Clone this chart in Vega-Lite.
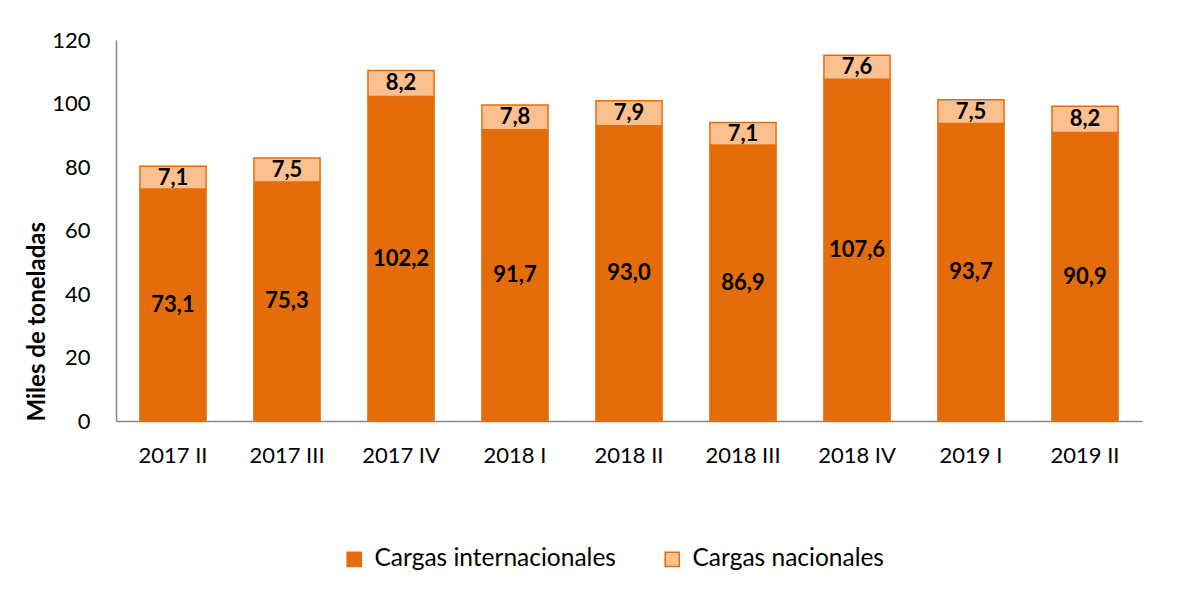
{
  "$schema": "https://vega.github.io/schema/vega-lite/v6.json",
  "width": 1026,
  "height": 381,
  "autosize": {"type": "none"},
  "padding": {"left": 116, "top": 40, "right": 54, "bottom": 183},
  "background": "white",
  "config": {
    "view": {"stroke": null},
    "font": "Lato",
    "locale": {"number": {"decimal": ",", "thousands": ".", "grouping": [3], "currency": ["", " €"]}}
  },
  "data": {
    "values": [
      {"periodo": "2017 II", "tipo": "Cargas internacionales", "valor": 73.1},
      {"periodo": "2017 II", "tipo": "Cargas nacionales", "valor": 7.1},
      {"periodo": "2017 III", "tipo": "Cargas internacionales", "valor": 75.3},
      {"periodo": "2017 III", "tipo": "Cargas nacionales", "valor": 7.5},
      {"periodo": "2017 IV", "tipo": "Cargas internacionales", "valor": 102.2},
      {"periodo": "2017 IV", "tipo": "Cargas nacionales", "valor": 8.2},
      {"periodo": "2018 I", "tipo": "Cargas internacionales", "valor": 91.7},
      {"periodo": "2018 I", "tipo": "Cargas nacionales", "valor": 7.8},
      {"periodo": "2018 II", "tipo": "Cargas internacionales", "valor": 93.0},
      {"periodo": "2018 II", "tipo": "Cargas nacionales", "valor": 7.9},
      {"periodo": "2018 III", "tipo": "Cargas internacionales", "valor": 86.9},
      {"periodo": "2018 III", "tipo": "Cargas nacionales", "valor": 7.1},
      {"periodo": "2018 IV", "tipo": "Cargas internacionales", "valor": 107.6},
      {"periodo": "2018 IV", "tipo": "Cargas nacionales", "valor": 7.6},
      {"periodo": "2019 I", "tipo": "Cargas internacionales", "valor": 93.7},
      {"periodo": "2019 I", "tipo": "Cargas nacionales", "valor": 7.5},
      {"periodo": "2019 II", "tipo": "Cargas internacionales", "valor": 90.9},
      {"periodo": "2019 II", "tipo": "Cargas nacionales", "valor": 8.2}
    ]
  },
  "transform": [
    {"calculate": "datum.tipo === 'Cargas internacionales' ? 0 : 1", "as": "orden"},
    {"stack": "valor", "groupby": ["periodo"], "sort": [{"field": "orden", "order": "ascending"}], "as": ["v0", "v1"]},
    {"calculate": "(datum.v0 + datum.v1) / 2", "as": "vmid"}
  ],
  "encoding": {
    "x": {
      "field": "periodo",
      "type": "nominal",
      "sort": null,
      "scale": {"paddingInner": 0.42, "paddingOuter": 0.21},
      "axis": {
        "title": null,
        "labelAngle": 0,
        "labelFont": "Lato",
        "labelFontSize": 22,
        "labelColor": "black",
        "labelPadding": 24,
        "ticks": false,
        "domainColor": "#898989",
        "domainWidth": 1.5,
        "grid": false
      }
    }
  },
  "layer": [
    {
      "mark": {"type": "bar", "strokeWidth": 1.5},
      "encoding": {
        "y": {
          "field": "v0",
          "type": "quantitative",
          "scale": {"domain": [0, 120], "nice": false},
          "axis": {
            "values": [0, 20, 40, 60, 80, 100, 120],
            "title": "Miles de toneladas",
            "titleFont": "Lato",
            "titleFontSize": 24,
            "titleFontWeight": "bold",
            "titleColor": "black",
            "titlePadding": 2,
            "titleAnchor": "start",
            "labelFont": "Lato",
            "labelFontSize": 22,
            "labelColor": "black",
            "labelPadding": 26,
            "ticks": false,
            "grid": false,
            "domainColor": "#898989",
            "domainWidth": 1.5
          }
        },
        "y2": {"field": "v1"},
        "fill": {
          "field": "tipo",
          "type": "nominal",
          "scale": {"domain": ["Cargas internacionales", "Cargas nacionales"], "range": ["#E46C0A", "#FAC090"]},
          "legend": {
            "title": null,
            "orient": "none",
            "legendX": 226,
            "legendY": 507,
            "direction": "horizontal",
            "symbolType": "square",
            "symbolSize": 200,
            "symbolStrokeWidth": 1.5,
            "labelFont": "Lato",
            "labelFontSize": 24.5,
            "labelColor": "black",
            "labelLimit": 0,
            "columnPadding": 44,
            "labelOffset": 8
          }
        },
        "stroke": {
          "field": "tipo",
          "type": "nominal",
          "scale": {"domain": ["Cargas internacionales", "Cargas nacionales"], "range": ["#E46C0A", "#E46C0A"]},
          "legend": null
        }
      }
    },
    {
      "mark": {"type": "text", "fontWeight": "bold", "fontSize": 22, "font": "Lato", "color": "black", "baseline": "middle"},
      "encoding": {
        "y": {"field": "vmid", "type": "quantitative"},
        "text": {"field": "valor", "type": "quantitative", "format": ".1f"}
      }
    }
  ]
}
